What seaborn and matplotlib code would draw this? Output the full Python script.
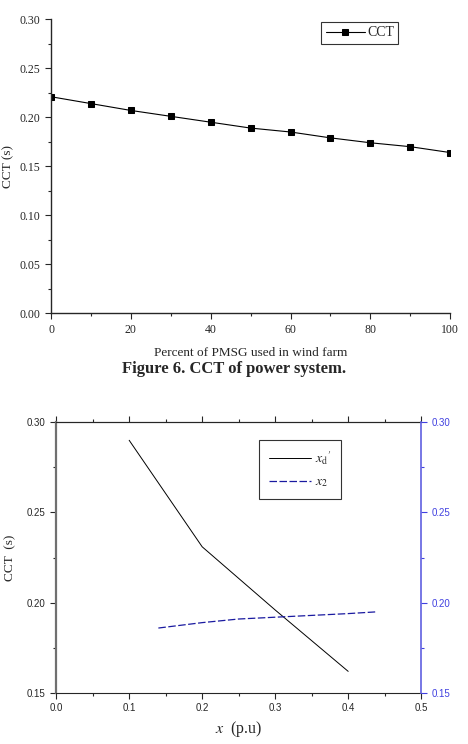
import matplotlib as mpl
import matplotlib.pyplot as plt
plt.switch_backend('Agg')
import seaborn as sns
import numpy as np
import pandas as pd
from matplotlib.ticker import MultipleLocator

# top chart: CCT vs PMSG share
pmsg_pct = [0, 10, 20, 30, 40, 50, 60, 70, 80, 90, 100]
cct_pmsg = [0.221, 0.214, 0.207, 0.201, 0.195, 0.189, 0.185, 0.179, 0.174, 0.170, 0.164]

# bottom chart: CCT vs reactance
xd_vals = [0.1, 0.2, 0.3, 0.4]
cct_xd = [0.290, 0.231, 0.196, 0.162]
x2_vals = [0.14, 0.2, 0.25, 0.3, 0.35, 0.4, 0.44]
cct_x2 = [0.186, 0.189, 0.191, 0.192, 0.193, 0.194, 0.195]

sns.set_style('ticks')
plt.rcParams['font.family'] = ['Liberation Serif', 'DejaVu Serif']
plt.rcParams['mathtext.fontset'] = 'stix'

fig = plt.figure(figsize=(4.68, 7.44), dpi=100)

# ---- top plot ----
ax1 = fig.add_axes([0.109, 0.579, 0.853, 0.395])
df1 = pd.DataFrame({'pct': pmsg_pct, 'cct': cct_pmsg})
sns.lineplot(data=df1, x='pct', y='cct', ax=ax1, color='black', lw=0.8,
             marker='s', markersize=5, markeredgecolor='black', label='CCT')
ax1.set_xlim(0, 100)
ax1.set_ylim(0, 0.30)
ax1.xaxis.set_major_locator(MultipleLocator(20))
ax1.xaxis.set_minor_locator(MultipleLocator(10))
ax1.yaxis.set_major_locator(MultipleLocator(0.05))
ax1.yaxis.set_minor_locator(MultipleLocator(0.025))
ax1.yaxis.set_major_formatter(mpl.ticker.FormatStrFormatter('%.2f'))
ax1.tick_params(which='both', direction='out', labelsize=8.5, width=0.8)
ax1.tick_params(which='major', length=4)
ax1.tick_params(which='minor', length=2.5)
sns.despine(ax=ax1)
for s in ['left', 'bottom']:
    ax1.spines[s].set_linewidth(1.0)
ax1.set_xlabel('Percent of PMSG used in wind farm', fontsize=9.5, labelpad=8)
ax1.set_ylabel('CCT (s)', fontsize=9.5)
leg = ax1.legend(loc='upper right', bbox_to_anchor=(0.87, 0.99), fontsize=10,
                 frameon=True, fancybox=False, edgecolor='black', handlelength=2.8,
                 borderaxespad=0, borderpad=0.3, handletextpad=0.2)
leg.get_frame().set_linewidth(0.8)

fig.text(0.5, 0.504, 'Figure 6. CCT of power system.', ha='center', va='center',
         fontsize=12, fontweight='bold')

# ---- bottom plot ----
ax2 = fig.add_axes([0.120, 0.0685, 0.780, 0.364])
df_xd = pd.DataFrame({'x': xd_vals, 'cct': cct_xd})
df_x2 = pd.DataFrame({'x': x2_vals, 'cct': cct_x2})
sns.lineplot(data=df_xd, x='x', y='cct', ax=ax2, color='black', lw=0.7,
             label=r"$x_{\mathrm{d}}{}^{\prime}$")
sns.lineplot(data=df_x2, x='x', y='cct', ax=ax2, color='#1a1aa0', lw=0.9,
             linestyle=(0, (6, 2)), label=r'$x_{2}$')
ax2.set_xlim(0, 0.5)
ax2.set_ylim(0.15, 0.30)
ax2.xaxis.set_major_locator(MultipleLocator(0.1))
ax2.xaxis.set_minor_locator(MultipleLocator(0.05))
ax2.yaxis.set_major_locator(MultipleLocator(0.05))
ax2.yaxis.set_minor_locator(MultipleLocator(0.025))
ax2.yaxis.set_major_formatter(mpl.ticker.FormatStrFormatter('%.2f'))
ax2.xaxis.set_major_formatter(mpl.ticker.FormatStrFormatter('%.1f'))
ax2.tick_params(which='both', direction='out', labelsize=7, width=0.8)
ax2.tick_params(which='major', length=4)
ax2.tick_params(which='minor', length=2.5)
for lab in ax2.get_xticklabels() + ax2.get_yticklabels():
    lab.set_family(['Liberation Sans', 'DejaVu Sans'])
ax2.spines['left'].set_color('#707070')
ax2.spines['left'].set_linewidth(1.6)
ax2.spines['right'].set_visible(False)
ax2.set_xlabel(r'$x$  (p.u)', fontsize=11.5, labelpad=4)
ax2.set_ylabel('CCT  (s)', fontsize=9.5, labelpad=8)

top = ax2.secondary_xaxis('top')
top.xaxis.set_major_locator(MultipleLocator(0.1))
top.xaxis.set_minor_locator(MultipleLocator(0.05))
top.tick_params(which='both', direction='out', labeltop=False, width=0.8)
top.tick_params(which='major', length=4)
top.tick_params(which='minor', length=2.5)

ax3 = ax2.twinx()
ax3.set_ylim(0.15, 0.30)
ax3.yaxis.set_major_locator(MultipleLocator(0.05))
ax3.yaxis.set_minor_locator(MultipleLocator(0.025))
ax3.yaxis.set_major_formatter(mpl.ticker.FormatStrFormatter('%.2f'))
ax3.tick_params(which='both', direction='out', labelsize=7, colors='#4040e0', width=0.8)
ax3.tick_params(which='major', length=4)
ax3.tick_params(which='minor', length=2.5)
for lab in ax3.get_yticklabels():
    lab.set_family(['Liberation Sans', 'DejaVu Sans'])
ax3.spines['right'].set_color('#6060e0')
ax3.spines['right'].set_linewidth(1.2)
for s in ['left', 'top', 'bottom']:
    ax3.spines[s].set_visible(False)
ax3.grid(False)

leg2 = ax2.legend(loc='upper left', bbox_to_anchor=(0.556, 0.935), fontsize=10,
                  frameon=True, fancybox=False, edgecolor='black', handlelength=3.0,
                  borderpad=0.7, labelspacing=0.6, borderaxespad=0, handletextpad=0.3)
leg2.get_frame().set_linewidth(0.8)

fig.savefig('out.png', dpi=100)
